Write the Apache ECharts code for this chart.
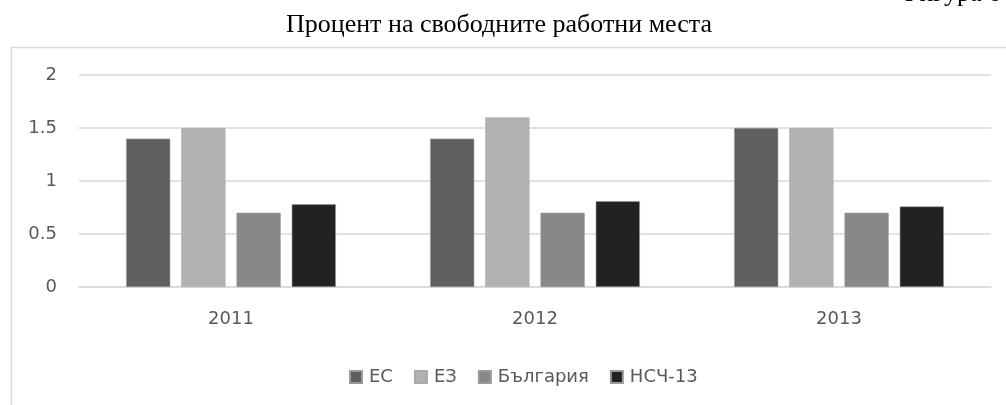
<!DOCTYPE html>
<html>
<head>
<meta charset="utf-8">
<script src="https://cdn.jsdelivr.net/npm/echarts@6/dist/echarts.min.js"></script>
<style>
html,body{margin:0;padding:0;background:#fff;}
#chart{width:1006px;height:405px;}
</style>
</head>
<body>
<div id="chart"></div>
<script>
const categories = ['2011', '2012', '2013'];
const seriesNames = ['ЕС', 'ЕЗ', 'България', 'НСЧ-13'];
const valuesEC = [1.4, 1.4, 1.5];
const valuesEZ = [1.5, 1.6, 1.5];
const valuesBG = [0.7, 0.7, 0.7];
const valuesNSC = [0.78, 0.81, 0.76];
const colors = ['#5f5f5f', '#b2b2b2', '#888888', '#222222'];
const yTicks = [0, 0.5, 1, 1.5, 2];

const chart = echarts.init(document.getElementById('chart'), null, {renderer: 'canvas'});
const labelFont = '"DejaVu Sans", sans-serif';
const dataSets = [valuesEC, valuesEZ, valuesBG, valuesNSC];

chart.setOption({
  animation: false,
  color: colors,
  graphic: [
    {type: 'rect', left: 9, top: 45, shape: {width: 1200, height: 600}, style: {fill: 'none', stroke: '#d9d9d9', lineWidth: 1.5}, z: -1},
    {type: 'text', x: 1001, y: -6, style: {text: 'Фигура 6', font: '26px "Liberation Serif", serif', fill: '#000', align: 'right', verticalAlign: 'middle'}},
    {type: 'text', x: 499, y: 25, style: {text: 'Процент на свободните работни места', font: '26px "Liberation Serif", serif', fill: '#000', align: 'center', verticalAlign: 'middle'}}
  ],
  legend: {
    data: seriesNames,
    top: 363,
    left: 344,
    itemWidth: 12,
    itemHeight: 12,
    itemGap: 21,
    icon: 'rect',
    textStyle: {fontFamily: labelFont, fontSize: 18, color: '#595959', padding: [0, 0, 0, 2]}
  },
  grid: {left: 79, right: 15, top: 75, bottom: 118},
  xAxis: {
    type: 'category',
    data: categories,
    axisLine: {lineStyle: {color: '#d9d9d9', width: 1.5}},
    axisTick: {show: false},
    axisLabel: {fontFamily: labelFont, fontSize: 18, color: '#595959', margin: 23}
  },
  yAxis: {
    type: 'value',
    min: yTicks[0],
    max: yTicks[yTicks.length - 1],
    interval: 0.5,
    axisLine: {show: false},
    axisTick: {show: false},
    splitLine: {lineStyle: {color: '#d9d9d9', width: 1.5}},
    axisLabel: {fontFamily: labelFont, fontSize: 18, color: '#595959', margin: 22}
  },
  series: seriesNames.map((name, i) => ({
    name: name,
    type: 'bar',
    data: dataSets[i],
    barGap: '25%',
    barCategoryGap: '31%',
    itemStyle: {color: colors[i], borderColor: i === 1 ? '#aaaaaa' : '#9a9a9a', borderWidth: 0.6}
  }))
});
</script>
</body>
</html>
